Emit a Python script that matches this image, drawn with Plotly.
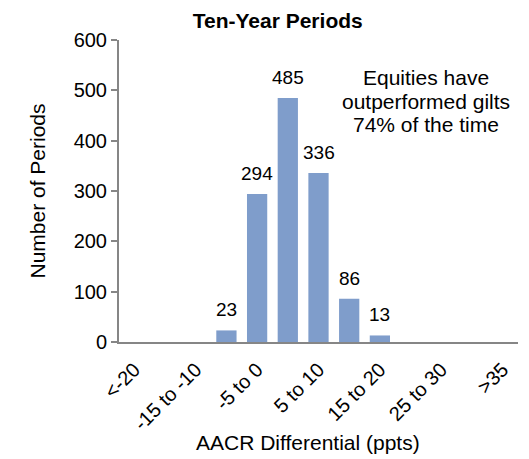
import plotly.graph_objects as go

categories = ["<-20", "-20 to -15", "-15 to -10", "-10 to -5", "-5 to 0", "0 to 5",
              "5 to 10", "10 to 15", "15 to 20", "20 to 25", "25 to 30", "30 to 35", ">35"]
counts = [0, 0, 0, 23, 294, 485, 336, 86, 13, 0, 0, 0, 0]
tick_labels = categories[::2]
note_lines = ["Equities have", "outperformed gilts", "74% of the time"]

FONT = "Liberation Sans, Arial, sans-serif"

fig = go.Figure(go.Bar(
    x=categories, y=counts,
    marker=dict(color="#7f9dcb", line=dict(width=0)),
    cliponaxis=False,
))

annotations = []
# data labels above bars
for c, v in zip(categories, counts):
    if v:
        annotations.append(dict(text=str(v), x=c, y=v, xref="x", yref="y",
                                xanchor="center", yanchor="bottom", yshift=8,
                                showarrow=False, font=dict(size=19, family=FONT)))
# note lines placed at fixed vertical spacing
note_y = [0.876, 0.798, 0.720]
for t, yy in zip(note_lines, note_y):
    annotations.append(dict(text=t, xref="paper", yref="paper", x=0.769, y=yy,
                            xanchor="center", yanchor="middle", showarrow=False,
                            font=dict(size=21, family=FONT)))
# x-axis title
annotations.append(dict(text="AACR Differential (ppts)", xref="paper", yref="paper",
                        x=0.474, y=-0.334, xanchor="center", yanchor="middle",
                        showarrow=False, font=dict(size=21, family=FONT)))

fig.update_layout(
    width=529, height=459,
    margin=dict(l=119, r=11, t=40, b=117),
    paper_bgcolor="white", plot_bgcolor="white",
    font=dict(family=FONT, size=20, color="black"),
    bargap=0.34,
    showlegend=False,
    title=dict(text="<b>Ten-Year Periods</b>", x=0.525, xanchor="center",
               y=0.955, yanchor="middle", font=dict(size=21, family=FONT)),
    annotations=annotations,
)

fig.update_xaxes(
    type="category", tickmode="array", tickvals=tick_labels, ticktext=tick_labels,
    tickangle=-45, showline=True, linecolor="#868686", linewidth=2,
    ticks="outside", ticklen=6, tickcolor="rgba(0,0,0,0)",
    showgrid=False, tickfont=dict(size=20), automargin=False,
)
fig.update_yaxes(
    range=[0, 600], dtick=100, showline=True, linecolor="#868686", linewidth=2,
    ticks="outside", ticklen=6, tickcolor="#868686", tickwidth=2,
    showgrid=False, zeroline=False, tickfont=dict(size=20), automargin=False,
    title=dict(text="Number of Periods", font=dict(size=21), standoff=22),
)

fig.write_html("out.html")
